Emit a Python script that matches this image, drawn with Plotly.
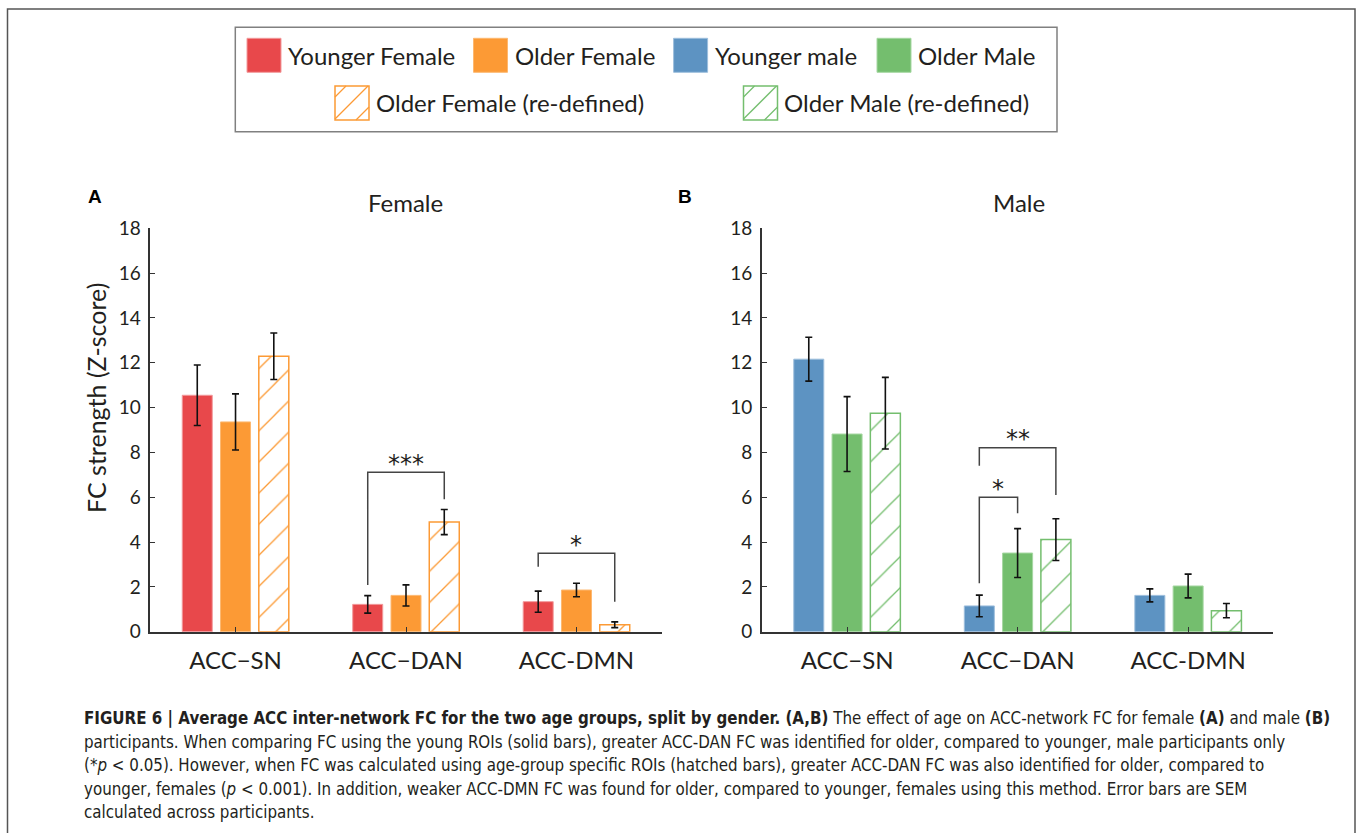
import plotly.graph_objects as go

W, H = 1358, 833

# ---------------- data ----------------
categories = ["ACC\u2212SN", "ACC\u2212DAN", "ACC-DMN"]
y_ticks = [0, 2, 4, 6, 8, 10, 12, 14, 16, 18]

female_young = [10.55, 1.22, 1.34]
female_young_sem = [1.35, 0.39, 0.47]
female_old = [9.36, 1.62, 1.86]
female_old_sem = [1.25, 0.47, 0.30]
female_old_redef = [12.29, 4.89, 0.31]
female_old_redef_sem = [1.04, 0.56, 0.13]

male_young = [12.16, 1.15, 1.62]
male_young_sem = [0.98, 0.48, 0.29]
male_old = [8.82, 3.51, 2.04]
male_old_sem = [1.67, 1.09, 0.53]
male_old_redef = [9.75, 4.11, 0.94]
male_old_redef_sem = [1.60, 0.93, 0.32]

# significance brackets: (category, bar_a, bar_b, top, left foot, right foot, label)
sig_female = [(1, 0, 2, 7.11, 2.08, 5.91, "***"),
              (2, 0, 2, 3.50, 2.90, 1.34, "*")]
sig_male = [(1, 0, 2, 8.21, 7.41, 6.10, "**"),
            (1, 0, 1, 6.00, 2.16, 5.28, "*")]

legend_row1 = ["Younger Female", "Older Female", "Younger male", "Older Male"]
legend_row2 = ["Older Female (re-defined)", "Older Male (re-defined)"]

# ---------------- style ----------------
RED = "#E8484B"
ORANGE = "#FC9A35"
BLUE = "#5D93C2"
GREEN = "#74BE6E"
RED_EDGE = "#F29A9C"
ORANGE_EDGE = "#FDB870"
BLUE_EDGE = "#9DBEDC"
GREEN_EDGE = "#A6D7A2"
FONT = "Lato, 'Open Sans', sans-serif"
CAP_FONT = "'DejaVu Sans Condensed', 'Liberation Sans', sans-serif"
TXT = "#231F20"

PITCH = 0.2245
BW = 0.176


def px(x):
    return x / W


def py(y):
    return 1 - y / H


fig = go.Figure()


def add_bar(vals, sem, k, color, edge, xa, ya, hatched=False):
    marker = dict(color=color, line=dict(color=edge, width=1))
    if hatched:
        marker = dict(color="white", line=dict(color=color, width=1.5),
                      pattern=dict(shape="/", fgcolor=color, bgcolor="white",
                                   size=22, solidity=0.06, fillmode="replace"))
    fig.add_trace(go.Bar(
        x=list(range(len(vals))), y=vals, width=BW,
        offset=(k - 1) * PITCH - BW / 2,
        marker=marker, xaxis=xa, yaxis=ya, showlegend=False,
        error_y=dict(type="data", array=sem, visible=True, color="#111",
                     thickness=1.6, width=3.5),
    ))


add_bar(female_young, female_young_sem, 0, RED, RED_EDGE, "x", "y")
add_bar(female_old, female_old_sem, 1, ORANGE, ORANGE_EDGE, "x", "y")
add_bar(female_old_redef, female_old_redef_sem, 2, ORANGE, ORANGE_EDGE, "x", "y", True)
add_bar(male_young, male_young_sem, 0, BLUE, BLUE_EDGE, "x2", "y2")
add_bar(male_old, male_old_sem, 1, GREEN, GREEN_EDGE, "x2", "y2")
add_bar(male_old_redef, male_old_redef_sem, 2, GREEN, GREEN_EDGE, "x2", "y2", True)

shapes = []
annotations = []


def add_sig(sigs, xr, yr):
    for cat, a, b, top, lf, rf, lab in sigs:
        xa = cat + (a - 1) * PITCH
        xb = cat + (b - 1) * PITCH
        shapes.append(dict(type="path", xref=xr, yref=yr,
                           path=f"M {xa},{lf} L {xa},{top} L {xb},{top} L {xb},{rf}",
                           line=dict(color="#444", width=1.5)))
        annotations.append(dict(x=(xa + xb) / 2, y=top + 0.38, xref=xr, yref=yr,
                                text=lab, showarrow=False, yanchor="middle",
                                font=dict(family="'DejaVu Sans', sans-serif", size=24, color=TXT)))


add_sig(sig_female, "x", "y")
add_sig(sig_male, "x2", "y2")

ydom = [py(631.7), py(228.3)]
common_x = dict(range=[-0.5, 2.5], showline=True, linecolor="#333", linewidth=2,
                ticks="inside", ticklen=5, tickcolor="#333", tickwidth=1.2,
                tickvals=[0, 1, 2], ticktext=categories, showgrid=False,
                zeroline=False, tickfont=dict(family=FONT, size=24, color=TXT),
                ticklabelstandoff=6)
common_y = dict(range=[0, 18], showline=True, linecolor="#333", linewidth=1.5,
                ticks="inside", ticklen=5, tickcolor="#333", tickwidth=1.2,
                tickvals=y_ticks, showgrid=False, zeroline=False,
                tickfont=dict(family=FONT, size=19, color=TXT),
                ticklabelstandoff=4)

fig.update_layout(
    width=W, height=H, margin=dict(l=0, r=0, t=0, b=0, autoexpand=False),
    paper_bgcolor="white", plot_bgcolor="white", showlegend=False,
    barmode="overlay",
    xaxis=dict(domain=[px(150.3), px(661.7)], anchor="y", **common_x),
    yaxis=dict(domain=ydom, anchor="x", **common_y),
    xaxis2=dict(domain=[px(761.8), px(1273.4)], anchor="y2", **common_x),
    yaxis2=dict(domain=ydom, anchor="x2", **common_y),
)

# page border
shapes.append(dict(type="rect", xref="paper", yref="paper", x0=px(7.5), x1=px(1355),
                   y0=py(860), y1=py(9), line=dict(color="#555", width=1.5)))
# legend box
shapes.append(dict(type="rect", xref="paper", yref="paper", x0=px(235.3), x1=px(1057),
                   y0=py(131.7), y1=py(27.3), line=dict(color="#808080", width=1.5)))

S = 34


def solid_swatch(x0, y0, color, edge):
    shapes.append(dict(type="rect", xref="paper", yref="paper", x0=px(x0), x1=px(x0 + S),
                       y0=py(y0 + S), y1=py(y0), fillcolor=color, line=dict(color=edge, width=1)))


def hatch_swatch(x0, y0, color):
    shapes.append(dict(type="rect", xref="paper", yref="paper", x0=px(x0), x1=px(x0 + S),
                       y0=py(y0 + S), y1=py(y0), fillcolor="white", line=dict(color=color, width=1.5)))
    for c in (11, 33, 55):
        if c <= S:
            p0, p1 = (x0, y0 + c), (x0 + c, y0)
        else:
            p0, p1 = (x0 + c - S, y0 + S), (x0 + S, y0 + c - S)
        shapes.append(dict(type="line", xref="paper", yref="paper",
                           x0=px(p0[0]), y0=py(p0[1]), x1=px(p1[0]), y1=py(p1[1]),
                           line=dict(color=color, width=1.3)))


def legend_text(x, y, t):
    annotations.append(dict(x=px(x), y=py(y), xref="paper", yref="paper", text=t,
                            showarrow=False, xanchor="left", yanchor="middle",
                            font=dict(family=FONT, size=24, color=TXT)))


row1_x = [247, 473.5, 673.6, 877]
row1_colors = [(RED, RED_EDGE), (ORANGE, ORANGE_EDGE), (BLUE, BLUE_EDGE), (GREEN, GREEN_EDGE)]
for xx, (c, e), t in zip(row1_x, row1_colors, legend_row1):
    solid_swatch(xx, 38.3, c, e)
    legend_text(xx + 39, 55.5, t)

row2_x = [335, 743.5]
for xx, c, t in zip(row2_x, [ORANGE, GREEN], legend_row2):
    hatch_swatch(xx, 86, c)
    legend_text(xx + 39, 102.5, t)

# titles and panel labels
for x, t in [(405, "Female"), (1019, "Male")]:
    annotations.append(dict(x=px(x), y=py(202), xref="paper", yref="paper", text=t,
                            showarrow=False, xanchor="center", yanchor="middle",
                            font=dict(family=FONT, size=24, color=TXT)))
for x, t in [(95, "A"), (685, "B")]:
    annotations.append(dict(x=px(x), y=py(196), xref="paper", yref="paper",
                            text=f"<b>{t}</b>", showarrow=False, xanchor="center",
                            yanchor="middle",
                            font=dict(family="'Liberation Sans', Arial, sans-serif", size=19, color="#000")))

annotations.append(dict(x=px(96), y=py(398), xref="paper", yref="paper",
                        text="FC strength (Z-score)", textangle=-90, showarrow=False,
                        xanchor="center", yanchor="middle",
                        font=dict(family=FONT, size=25, color=TXT)))

caption = [
    "<b>FIGURE 6 | Average ACC inter-network FC for the two age groups, split by gender. (A,B)</b> "
    "The effect of age on ACC-network FC for female <b>(A)</b> and male <b>(B)</b>",
    "participants. When comparing FC using the young ROIs (solid bars), greater ACC-DAN FC was "
    "identified for older, compared to younger, male participants only",
    "(*<i>p</i> &lt; 0.05). However, when FC was calculated using age-group specific ROIs (hatched bars), "
    "greater ACC-DAN FC was also identified for older, compared to",
    "younger, females (<i>p</i> &lt; 0.001). In addition, weaker ACC-DMN FC was found for older, "
    "compared to younger, females using this method. Error bars are SEM",
    "calculated across participants.",
]
for i, line in enumerate(caption):
    annotations.append(dict(x=px(82), y=py(718 + i * 23.5), xref="paper", yref="paper",
                            text=line, showarrow=False, xanchor="left", yanchor="middle",
                            font=dict(family=CAP_FONT, size=16.8, color="#231F20")))

fig.update_layout(shapes=shapes, annotations=annotations)
fig.write_html("out.html")
